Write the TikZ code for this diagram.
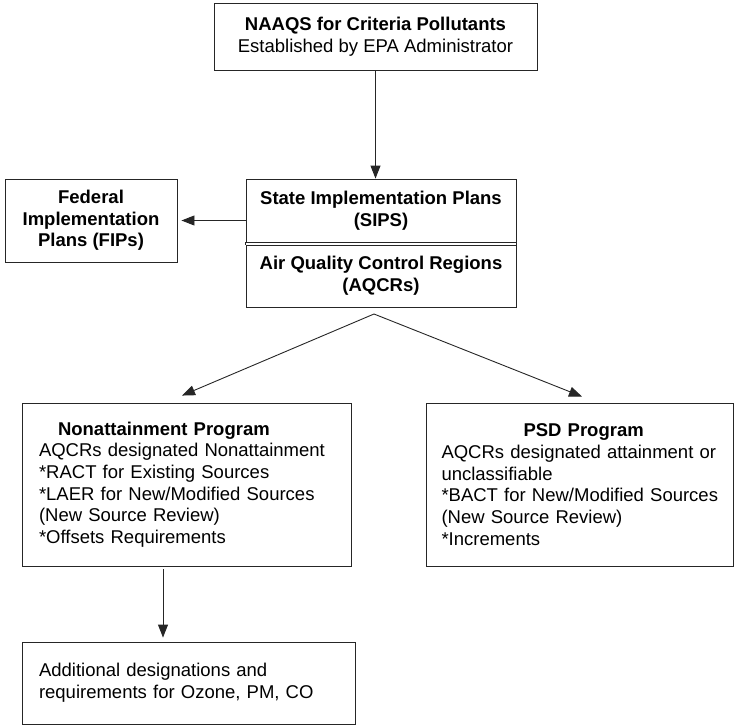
\documentclass[tikz,border=0pt]{standalone}
\usepackage{fontspec}
\setmainfont{Liberation Sans}
\usetikzlibrary{arrows.meta,calc}
\begin{document}
\begin{tikzpicture}[x=1pt,y=-1pt,
  box/.style={draw=black!85,line width=0.9pt,inner sep=0pt,font=\fontsize{18.5}{21.7}\selectfont},
  boldbox/.style={box,align=center,font=\fontsize{18.5}{21.7}\selectfont\bfseries},
  conn/.style={draw=black!85,line width=0.9pt,-{Triangle[length=13pt,width=10pt]}}]
\useasboundingbox (0,0) rectangle (734,726);
\node[box,align=center,minimum width=323pt,minimum height=67pt] (naaqs) at (375.5,36.5) {\textbf{NAAQS for Criteria Pollutants}\\Established by EPA Administrator};
\node[boldbox,minimum width=172pt,minimum height=83pt] (fip) at (91,220.5) {Federal\\Implementation\\Plans (FIPs)};
\node[boldbox,minimum width=270pt,minimum height=63pt] (sip) at (381,210.5) {State Implementation Plans\\(SIPS)};
\node[boldbox,minimum width=270pt,minimum height=62pt] (aqcr) at (381,276) {Air Quality Control Regions\\(AQCRs)};
\draw[black!85,line width=0.9pt] (sip.south west) -- (aqcr.north west) (sip.south east) -- (aqcr.north east);
\coordinate (fork) at (374,314);
\node[box,align=left,inner xsep=17pt,text width=295pt,minimum height=163pt] (nonatt) at (186.5,484.5) {\hspace*{19pt}\textbf{Nonattainment Program}\\\mbox{AQCRs designated Nonattainment}\\{}*RACT for Existing Sources\\\mbox{*LAER for New/Modified Sources}\\(New Source Review)\\{}*Offsets Requirements};
\node[box,align=left,inner xsep=15.5pt,text width=276pt,minimum height=163pt] (psd) at (579.5,484.5) {\hspace*{82pt}\textbf{PSD Program}\\\mbox{AQCRs designated attainment or}\\unclassifiable\\\mbox{*BACT for New/Modified Sources}\\(New Source Review)\\{}*Increments};
\node[box,align=left,inner xsep=17pt,text width=299pt,minimum height=82pt] (extra) at (188.5,683) {Additional designations and\\requirements for Ozone, PM, CO};
\draw[conn] (naaqs.south) -- (naaqs.south |- sip.north);
\draw[conn] (sip.west |- fip.east) -- ($(fip.east)+(4,0)$);
\draw[conn] (fork) -- ($(nonatt.north)+(-4.5,-7)$);
\draw[conn] (fork) -- ($(psd.north)+(2.5,-6)$);
\draw[conn] ($(nonatt.south)+(-23.5,3)$) -- ($(extra.north)+(-25.5,-4)$);
\end{tikzpicture}
\end{document}
